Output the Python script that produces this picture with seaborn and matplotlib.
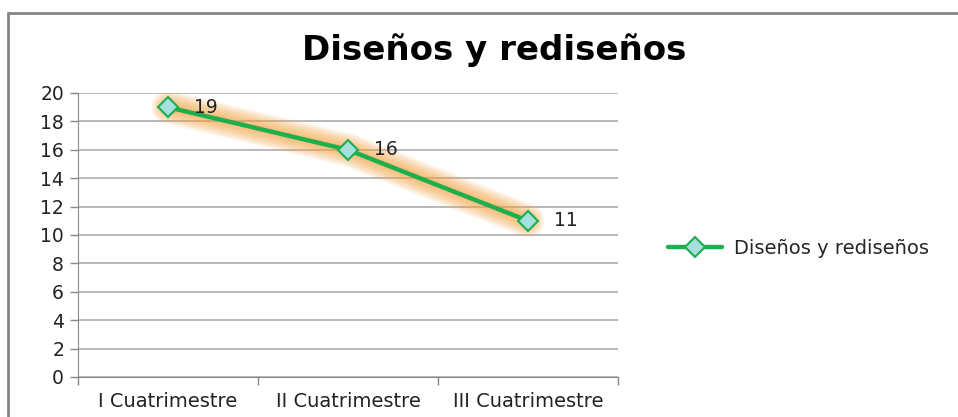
import numpy as np
import pandas as pd
import matplotlib
matplotlib.use("Agg")
import matplotlib.pyplot as plt
from matplotlib.lines import Line2D
import seaborn as sns

# Data
categories = ["I Cuatrimestre", "II Cuatrimestre", "III Cuatrimestre"]
values = [19, 16, 11]
series_name = "Diseños y rediseños"
y_ticks = [0, 2, 4, 6, 8, 10, 12, 14, 16, 18, 20]

df = pd.DataFrame({"cat": categories, "val": values})

sns.set_style("white")
plt.rcParams["font.family"] = ["DejaVu Sans"]

green = "#1DAF4E"
fig = plt.figure(figsize=(9.58, 4.17), dpi=100)
W, H = 958, 417
ax = fig.add_axes([78 / W, 1 - 377 / H, (618 - 78) / W, (377 - 93) / H])

# soft orange glow under the line
for lw in np.linspace(24, 5, 12):
    ax.plot(range(len(values)), values, color="#F8A23C", lw=lw, alpha=0.08,
            solid_capstyle="round", solid_joinstyle="round", zorder=2)

sns.lineplot(data=df, x="cat", y="val", ax=ax, color=green, lw=3.2,
             marker="D", markersize=10, markerfacecolor="#A6DFE0",
             markeredgecolor=green, markeredgewidth=1.5,
             label=series_name, zorder=3, sort=False)

for i, v in enumerate(values):
    ax.annotate(str(v), (i, v), xytext=(19, 0), textcoords="offset points",
                va="center", ha="left", fontsize=13.5, color="#222222")

ax.set_xlim(-0.5, 2.5)
ax.set_ylim(0, 20)
ax.set_yticks(y_ticks)
ax.yaxis.grid(True, color="#ADADAD", lw=1.2)
ax.set_xticks([-0.5, 0.5, 1.5, 2.5])
ax.set_xticklabels([])
ax.set_xticks(range(len(categories)), minor=True)
ax.set_xticklabels(categories, minor=True)
ax.tick_params(axis="x", which="minor", length=0, pad=11, labelsize=14)
ax.tick_params(axis="x", which="major", length=6, direction="out", width=1)
ax.tick_params(axis="y", length=6, direction="out", width=1,
               labelsize=13.5, pad=4)
ax.tick_params(axis="both", which="both", color="#888888", labelcolor="#222222")
ax.set_xlabel("")
ax.set_ylabel("")
for s in ["top", "right"]:
    ax.spines[s].set_visible(False)
ax.spines["left"].set_color("#888888")
ax.spines["bottom"].set_color("#888888")
ax.xaxis.set_ticks_position("bottom")
ax.yaxis.set_ticks_position("left")

fig.text(494 / W, 1 - 50 / H, "Diseños y rediseños", ha="center", va="center",
         fontsize=24.5, fontweight="bold", color="black")

leg = ax.legend(loc="center left", bbox_to_anchor=(650 / W, 1 - 248 / H),
                bbox_transform=fig.transFigure, frameon=False, fontsize=14,
                handlelength=2.8, handletextpad=0.6)

# outer chart frame
fig.add_artist(Line2D([8 / W, 8 / W], [0, 1 - 13 / H], color="#868686", lw=2))
fig.add_artist(Line2D([8 / W, 1], [1 - 13 / H, 1 - 13 / H], color="#868686", lw=2))

plt.savefig("out.png", dpi=100)
